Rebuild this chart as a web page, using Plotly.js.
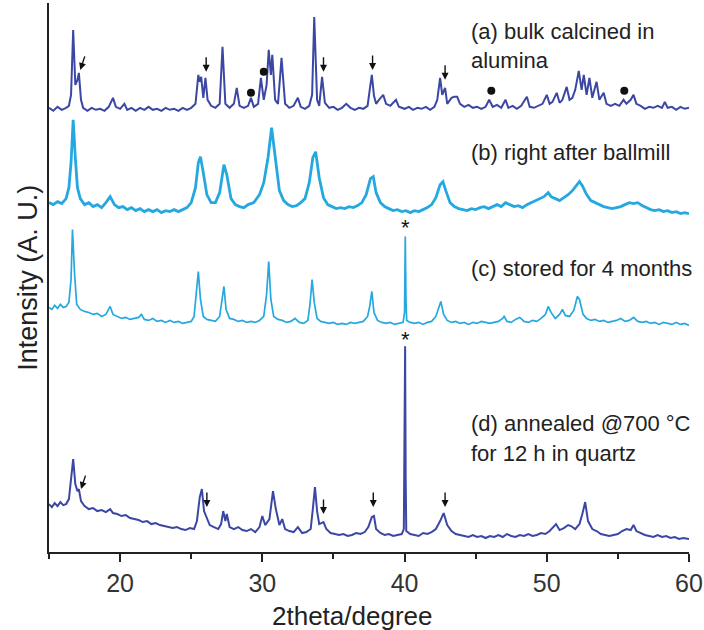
<!DOCTYPE html>
<html><head><meta charset="utf-8">
<script src="https://cdn.plot.ly/plotly-3.0.1.min.js"></script>
<style>body{margin:0;background:#fff}#chart{width:704px;height:630px}</style>
</head><body><div id="chart"></div>
<script>
// Stacking offsets (a, b, c, d)
const offsets = [443, 340, 228, 13];
const seriesNames = ["(a) bulk calcined in alumina", "(b) right after ballmill", "(c) stored for 4 months", "(d) annealed @700 °C for 12 h in quartz"];

const xA = [15.0,15.3,15.6,15.9,16.2,16.4,16.55,16.7,16.85,17.0,17.1,17.25,17.4,17.7,18.0,18.3,18.6,18.9,19.2,19.5,19.7,20.0,20.3,20.5,20.8,21.1,21.4,21.7,22.0,22.3,22.6,22.9,23.2,23.5,23.8,24.1,24.4,24.7,25.0,25.3,25.5,25.6,25.7,25.85,26.0,26.15,26.4,26.7,27.0,27.2,27.4,27.7,28.0,28.2,28.4,28.7,29.0,29.2,29.4,29.7,29.9,30.1,30.3,30.45,30.6,30.7,30.9,31.1,31.35,31.6,31.9,32.2,32.5,32.7,33.0,33.3,33.5,33.65,33.85,34.0,34.2,34.4,34.7,35.0,35.3,35.6,35.9,36.2,36.5,36.8,37.1,37.4,37.55,37.7,37.85,38.0,38.2,38.5,38.7,39.0,39.4,39.6,40.0,40.3,40.6,40.9,41.2,41.5,41.8,42.1,42.3,42.5,42.65,42.85,43.0,43.3,43.5,43.7,43.9,44.2,44.5,44.8,45.1,45.4,45.7,45.95,46.2,46.5,46.8,47.1,47.3,47.6,47.9,48.2,48.6,48.8,49.1,49.4,49.7,50.0,50.2,50.4,50.7,50.9,51.1,51.4,51.6,51.8,52.0,52.25,52.45,52.6,52.8,53.0,53.2,53.5,53.7,54.0,54.2,54.5,54.8,55.1,55.4,55.6,55.9,56.1,56.3,56.6,56.9,57.2,57.5,57.8,58.1,58.3,58.5,58.8,59.1,59.4,59.7,60.0];
const yA = [2,-1,3,0,2,4,15,80,25,30,37,10,2,-1,2,0,1,-1,3,12,3,1,6,0,2,-1,2,0,3,0,1,-1,2,0,1,-1,2,0,2,6,35,28,33,12,32,10,4,2,6,63,6,2,6,22,4,2,4,12,3,6,32,10,25,60,35,55,10,6,52,6,2,4,12,3,1,4,15,93,10,4,33,7,2,3,0,2,6,2,0,2,1,4,20,35,14,6,10,15,6,4,10,3,1,3,0,2,1,3,0,3,10,32,15,22,6,12,13,13,6,3,5,2,3,1,3,10,3,5,2,10,2,4,1,4,13,3,2,4,6,15,6,8,17,7,10,23,10,12,20,39,20,35,15,32,12,28,10,17,6,4,6,4,10,6,10,15,6,4,1,3,2,4,2,8,2,3,0,3,1,2];

const xB = [15.0,15.3,15.6,15.9,16.2,16.4,16.55,16.7,16.85,17.0,17.2,17.5,17.8,18.1,18.4,18.7,19.0,19.3,19.6,19.9,20.2,20.5,20.8,21.1,21.4,21.7,22.0,22.3,22.6,22.9,23.2,23.5,23.8,24.1,24.4,24.7,25.0,25.3,25.5,25.65,25.85,26.1,26.4,26.7,27.0,27.3,27.5,27.8,28.1,28.4,28.7,29.0,29.4,29.8,30.1,30.4,30.65,30.9,31.2,31.5,31.8,32.1,32.4,32.7,33.0,33.3,33.55,33.75,34.0,34.3,34.6,34.9,35.2,35.5,35.8,36.1,36.4,36.7,37.0,37.3,37.6,37.8,38.0,38.3,38.6,38.9,39.2,39.5,39.8,40.1,40.4,40.7,41.0,41.3,41.6,41.9,42.2,42.5,42.7,42.9,43.2,43.5,43.8,44.1,44.4,44.7,45.0,45.3,45.6,45.9,46.2,46.5,46.8,47.1,47.4,47.7,48.0,48.3,48.6,48.9,49.2,49.5,49.8,50.1,50.3,50.6,50.9,51.2,51.5,51.8,52.1,52.3,52.5,52.8,53.1,53.4,53.7,54.0,54.3,54.6,54.9,55.2,55.5,55.8,56.1,56.4,56.7,57.0,57.3,57.6,57.9,58.2,58.5,58.8,59.1,59.4,59.7,60.0];
const yB = [10,8,11,9,14,25,50,93,55,25,14,8,10,6,8,5,10,16,8,5,6,3,5,2,4,1,3,1,3,0,2,1,3,1,3,5,10,25,50,56,40,18,10,10,20,48,38,14,8,6,5,8,10,18,30,55,85,55,22,12,8,6,7,10,14,30,55,61,35,15,8,6,4,5,4,6,5,7,10,18,34,36,20,10,6,4,2,3,1,2,0,2,1,3,5,8,15,28,31,22,10,6,4,3,2,4,3,5,6,4,6,8,6,10,8,6,7,5,8,10,12,14,16,20,16,14,12,15,18,22,28,31,27,18,12,10,8,6,5,4,5,6,8,10,9,10,7,5,3,2,3,1,2,0,1,-1,0,-1];

const xC = [15.0,15.2,15.4,15.6,15.8,16.0,16.2,16.4,16.55,16.65,16.8,16.95,17.2,17.5,17.8,18.1,18.4,18.7,19.0,19.3,19.5,19.8,20.1,20.4,20.7,21.0,21.3,21.5,21.7,22.0,22.3,22.6,22.9,23.2,23.5,23.8,24.1,24.4,24.7,25.0,25.2,25.35,25.5,25.65,25.85,26.1,26.4,26.7,27.0,27.15,27.3,27.45,27.7,28.0,28.3,28.6,28.9,29.2,29.5,29.8,30.1,30.3,30.45,30.6,30.8,31.1,31.4,31.7,32.0,32.3,32.6,32.9,33.2,33.35,33.5,33.65,33.85,34.1,34.4,34.7,35.0,35.3,35.6,35.9,36.2,36.5,36.8,37.1,37.4,37.55,37.7,37.85,38.1,38.4,38.7,39.0,39.3,39.6,39.9,40.0,40.05,40.1,40.15,40.4,40.7,41.0,41.3,41.6,41.9,42.2,42.4,42.55,42.75,43.0,43.3,43.6,43.9,44.2,44.5,44.8,45.1,45.4,45.7,46.0,46.3,46.6,46.9,47.0,47.2,47.5,47.8,48.1,48.4,48.7,49.0,49.3,49.6,49.9,50.1,50.3,50.6,50.9,51.1,51.3,51.6,51.9,52.15,52.3,52.55,52.8,53.1,53.4,53.7,54.0,54.3,54.6,54.9,55.2,55.5,55.8,56.1,56.4,56.7,57.0,57.3,57.6,57.9,58.2,58.5,58.8,59.1,59.4,59.7,60.0];
const yC = [17,15,19,16,20,17,18,22,45,95,50,20,15,13,12,10,11,8,10,18,10,8,6,7,5,6,7,10,5,4,6,3,4,2,4,2,3,1,2,3,8,30,53,25,8,5,4,3,8,25,38,15,6,5,3,4,2,3,2,4,8,30,63,25,8,5,4,2,3,6,2,1,4,20,45,22,6,3,2,1,2,0,1,0,2,1,2,3,8,18,33,12,4,2,1,2,0,1,2,12,88,25,4,2,1,2,0,2,3,8,18,23,10,4,2,3,1,2,0,2,1,3,2,1,2,3,6,8,3,2,5,7,3,2,4,3,6,10,18,12,6,10,15,9,8,14,28,25,10,6,4,5,3,4,2,3,4,6,3,4,7,3,2,3,1,2,0,2,1,0,2,0,1,-1];

const xD = [15.0,15.2,15.4,15.6,15.8,16.0,16.2,16.4,16.55,16.7,16.85,17.0,17.1,17.25,17.5,17.8,18.1,18.4,18.7,19.0,19.3,19.5,19.8,20.1,20.4,20.7,21.0,21.3,21.6,21.9,22.2,22.5,22.8,23.1,23.4,23.7,24.0,24.3,24.6,24.9,25.2,25.4,25.6,25.75,25.9,26.1,26.3,26.6,26.9,27.1,27.25,27.4,27.5,27.7,28.0,28.3,28.6,28.9,29.2,29.5,29.8,30.0,30.2,30.5,30.75,30.95,31.2,31.4,31.6,31.9,32.2,32.5,32.8,33.1,33.4,33.55,33.7,33.85,34.0,34.3,34.5,34.8,35.1,35.4,35.7,36.0,36.3,36.6,36.9,37.2,37.45,37.7,37.85,38.0,38.3,38.6,38.9,39.2,39.5,39.8,39.95,40.0,40.04,40.08,40.12,40.4,40.7,41.0,41.3,41.6,41.9,42.2,42.5,42.75,43.0,43.3,43.6,43.9,44.2,44.5,44.8,45.1,45.4,45.7,46.0,46.3,46.6,46.9,47.2,47.5,47.8,48.1,48.4,48.7,49.0,49.3,49.6,49.9,50.2,50.5,50.65,50.9,51.2,51.5,51.7,52.0,52.3,52.5,52.7,52.9,53.2,53.5,53.8,54.1,54.4,54.7,55.0,55.3,55.6,55.9,56.1,56.3,56.6,56.9,57.2,57.5,57.8,58.1,58.4,58.7,59.0,59.3,59.6,60.0];
const yD = [35,32,36,33,37,34,35,40,60,80,55,48,50,38,33,30,31,28,29,27,30,26,25,23,24,21,20,19,17,18,15,16,14,13,12,11,12,10,9,11,10,18,42,50,28,20,14,12,10,15,28,18,25,12,10,12,9,8,10,7,12,23,14,20,48,30,14,20,10,8,7,12,6,7,10,30,52,28,15,17,10,6,5,4,5,3,4,6,5,7,12,22,23,10,6,4,5,3,4,5,10,77,193,60,8,5,4,3,6,5,7,10,18,26,14,8,5,4,3,2,4,2,3,1,3,2,4,2,5,3,2,4,3,5,3,4,6,5,8,12,15,9,11,14,13,10,15,25,37,18,10,8,5,4,3,4,5,8,10,9,14,8,6,4,3,2,4,2,3,1,2,0,1,0];

// Markers: arrows (tip positions), dots, asterisks
const arrowX = [17.2, 26.05, 34.3, 37.75, 42.85, 17.25, 26.1, 34.3, 37.8, 42.85];
const arrowY = [483, 481, 481, 483, 473, 63, 45, 38, 45, 45];
const dotX = [29.2, 30.1, 46.1, 55.45];
const dotY = [460, 481, 462, 462];
const starX = [40.05, 40.05];
const starY = [325, 213];
const xTicks = [20, 30, 40, 50, 60];

const xs = [xA, xB, xC, xD];
const ys = [yA, yB, yC, yD];
const colors = ['#3b47a3', '#25a8e0', '#25a8e0', '#3b47a3'];
const widths = [2, 2.8, 1.7, 2];

const traces = xs.map((x, i) => ({
  x: x, y: ys[i].map(v => v + offsets[i]), type: 'scatter', mode: 'lines',
  name: seriesNames[i], line: {color: colors[i], width: widths[i]}, hoverinfo: 'skip'
}));
traces.push({x: dotX, y: dotY, type: 'scatter', mode: 'markers',
  marker: {color: '#111', size: 8}, hoverinfo: 'skip'});

const font = {family: '"Liberation Sans", Arial, sans-serif', color: '#222'};
const annotations = [];
arrowX.forEach((x, i) => {
  const diag = (i === 0 || i === 5);
  annotations.push({x: x, y: arrowY[i], xref: 'x', yref: 'y', text: '', showarrow: true,
    arrowhead: 2, arrowsize: 1, arrowwidth: 1.4, arrowcolor: '#111',
    ax: diag ? 5 : 0, ay: diag ? -15 : -16});
});
starX.forEach((x, i) => annotations.push({x: x, y: starY[i], xref: 'x', yref: 'y',
  text: '*', showarrow: false, font: Object.assign({}, font, {size: 22, color: '#111'}), yanchor: 'middle'}));
const labels = [
  ['(a) bulk calcined in', 521], ['alumina', 492], ['(b) right after ballmill', 400],
  ['(c) stored for 4 months', 284], ['(d) annealed @700 °C', 129], ['for 12 h in quartz', 99]
];
labels.forEach(l => annotations.push({x: 44.55, y: l[1], xref: 'x', yref: 'y', text: l[0],
  xanchor: 'left', yanchor: 'middle', showarrow: false, font: Object.assign({}, font, {size: 22})}));
// axis titles
annotations.push({x: 36.3, xref: 'x', y: -0.085, yref: 'paper', yanchor: 'top', showarrow: false,
  text: '2theta/degree', font: Object.assign({}, font, {size: 26})});
annotations.push({x: -0.034, xref: 'paper', y: 0.5, yref: 'paper', xanchor: 'center', yanchor: 'middle',
  textangle: -90, showarrow: false, text: 'Intensity (A. U.)', font: Object.assign({}, font, {size: 27})});

const layout = {
  width: 704, height: 630, margin: {l: 49, r: 15, t: 3, b: 78},
  paper_bgcolor: '#fff', plot_bgcolor: '#fff', showlegend: false,
  font: font,
  xaxis: {range: [15, 60], tickvals: xTicks, ticktext: xTicks.map(String), ticks: 'outside',
    ticklen: 8, tickwidth: 2, tickcolor: '#222', showline: true, linecolor: '#222', linewidth: 2,
    showgrid: false, zeroline: false, tickfont: {size: 25, color: '#333'},
    minor: {dtick: 5, tick0: 15, ticks: 'outside', ticklen: 5, tickwidth: 2, tickcolor: '#222'}},
  yaxis: {range: [0, 550], showticklabels: false, ticks: '', showline: true, linecolor: '#222',
    linewidth: 2, showgrid: false, zeroline: false},
  annotations: annotations
};
Plotly.newPlot('chart', traces, layout, {displayModeBar: false, staticPlot: true});
</script></body></html>
